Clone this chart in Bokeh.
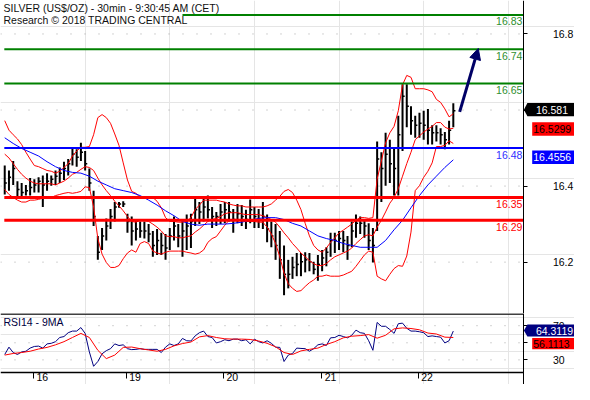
from bokeh.plotting import figure
from bokeh.models import (Range1d, LinearAxis, FixedTicker, Label,
                          Arrow, NormalHead, PolyAnnotation)
from bokeh.layouts import column
from bokeh.embed import file_html
from bokeh.resources import INLINE
from bokeh.core.properties import value

# ---------------------------------------------------------------- data
title_lines = ["SILVER (US$/OZ) - 30min - 9:30:45 AM (CET)",
               "Research \u00a9 2018 TRADING CENTRAL"]
day_labels = ["16", "19", "20", "21", "22"]
day_start = [7.8, 29.7, 52.7, 75.9, 98.7]      # bar position where each session opens

bar_high = [16.434, 16.421, 16.446, 16.393, 16.388, 16.383, 16.401, 16.398, 16.403, 16.408,
            16.414, 16.408, 16.421, 16.429, 16.444, 16.451, 16.482, 16.477, 16.494, 16.472,
            16.426, 16.368, 16.249, 16.270, 16.295, 16.320, 16.338, 16.338, 16.340, 16.307,
            16.300, 16.292, 16.287, 16.287, 16.280, 16.262, 16.267, 16.257, 16.254, 16.270,
            16.300, 16.280, 16.292, 16.305, 16.307, 16.350, 16.338, 16.350, 16.355, 16.325,
            16.312, 16.333, 16.338, 16.338, 16.320, 16.333, 16.330, 16.318, 16.345, 16.325,
            16.320, 16.338, 16.305, 16.287, 16.280, 16.262, 16.224, 16.186, 16.194, 16.204,
            16.204, 16.206, 16.204, 16.181, 16.199, 16.212, 16.219, 16.257, 16.257, 16.262,
            16.262, 16.249, 16.287, 16.305, 16.300, 16.292, 16.282, 16.270, 16.497, 16.469,
            16.520, 16.502, 16.482, 16.565, 16.648, 16.648, 16.590, 16.565, 16.573, 16.578,
            16.583, 16.540, 16.540, 16.532, 16.522, 16.552, 16.598]
bar_low = [16.358, 16.368, 16.383, 16.350, 16.350, 16.355, 16.355, 16.363, 16.363, 16.325,
           16.368, 16.381, 16.383, 16.388, 16.396, 16.408, 16.434, 16.431, 16.446, 16.421,
           16.368, 16.275, 16.186, 16.212, 16.237, 16.267, 16.287, 16.323, 16.325, 16.257,
           16.224, 16.237, 16.244, 16.242, 16.232, 16.194, 16.199, 16.199, 16.186, 16.212,
           16.237, 16.219, 16.194, 16.212, 16.217, 16.275, 16.280, 16.287, 16.295, 16.270,
           16.275, 16.280, 16.282, 16.287, 16.257, 16.282, 16.275, 16.267, 16.282, 16.270,
           16.270, 16.267, 16.232, 16.219, 16.186, 16.136, 16.093, 16.111, 16.136, 16.143,
           16.143, 16.153, 16.156, 16.148, 16.131, 16.156, 16.169, 16.194, 16.204, 16.212,
           16.206, 16.186, 16.219, 16.244, 16.254, 16.244, 16.212, 16.179, 16.262, 16.338,
           16.381, 16.388, 16.355, 16.355, 16.472, 16.535, 16.515, 16.507, 16.507, 16.502,
           16.489, 16.489, 16.497, 16.489, 16.477, 16.489, 16.535]
bar_close = [16.388, 16.403, 16.426, 16.371, 16.363, 16.368, 16.376, 16.383, 16.393, 16.383,
             16.393, 16.398, 16.406, 16.414, 16.426, 16.439, 16.464, 16.456, 16.469, 16.439,
             16.388, 16.300, 16.206, 16.249, 16.275, 16.300, 16.325, 16.333, 16.333, 16.287,
             16.262, 16.267, 16.262, 16.262, 16.254, 16.224, 16.237, 16.224, 16.217, 16.249,
             16.275, 16.249, 16.262, 16.275, 16.287, 16.318, 16.312, 16.325, 16.318, 16.300,
             16.300, 16.312, 16.318, 16.312, 16.292, 16.307, 16.300, 16.292, 16.318, 16.300,
             16.292, 16.300, 16.267, 16.249, 16.224, 16.186, 16.148, 16.148, 16.166, 16.174,
             16.181, 16.186, 16.181, 16.161, 16.174, 16.191, 16.206, 16.237, 16.237, 16.242,
             16.237, 16.224, 16.262, 16.282, 16.282, 16.275, 16.237, 16.224, 16.451, 16.426,
             16.464, 16.439, 16.426, 16.515, 16.616, 16.590, 16.552, 16.540, 16.545, 16.540,
             16.527, 16.520, 16.520, 16.515, 16.502, 16.527, 16.578]

bb_upper = [16.552, 16.527, 16.515, 16.504, 16.489, 16.469, 16.451, 16.434, 16.431, 16.426,
            16.421, 16.419, 16.414, 16.419, 16.429, 16.439, 16.459, 16.472, 16.482, 16.482,
            16.484, 16.515, 16.560, 16.568, 16.560, 16.545, 16.517, 16.487, 16.441, 16.396,
            16.366, 16.361, 16.350, 16.348, 16.348, 16.350, 16.340, 16.323, 16.297, 16.287,
            16.287, 16.285, 16.285, 16.287, 16.297, 16.318, 16.330, 16.343, 16.343, 16.343,
            16.343, 16.340, 16.338, 16.333, 16.330, 16.328, 16.328, 16.325, 16.325, 16.325,
            16.325, 16.325, 16.328, 16.333, 16.343, 16.353, 16.366, 16.371, 16.363, 16.343,
            16.318, 16.282, 16.249, 16.224, 16.212, 16.206, 16.217, 16.232, 16.244, 16.257,
            16.264, 16.272, 16.280, 16.290, 16.297, 16.297, 16.295, 16.297, 16.398, 16.446,
            16.494, 16.520, 16.537, 16.578, 16.646, 16.671, 16.666, 16.636, 16.636, 16.636,
            16.633, 16.628, 16.608, 16.600, 16.583, 16.562, 16.570]
bb_middle = [16.464, 16.454, 16.439, 16.424, 16.411, 16.401, 16.393, 16.388, 16.386, 16.386,
             16.386, 16.386, 16.383, 16.388, 16.393, 16.401, 16.411, 16.416, 16.424, 16.431,
             16.429, 16.421, 16.401, 16.383, 16.368, 16.355, 16.340, 16.328, 16.315, 16.300,
             16.287, 16.285, 16.290, 16.290, 16.287, 16.280, 16.272, 16.262, 16.249, 16.247,
             16.247, 16.244, 16.244, 16.247, 16.249, 16.259, 16.267, 16.277, 16.287, 16.292,
             16.295, 16.300, 16.307, 16.310, 16.310, 16.310, 16.307, 16.305, 16.305, 16.305,
             16.305, 16.302, 16.297, 16.292, 16.285, 16.272, 16.257, 16.244, 16.229, 16.217,
             16.204, 16.194, 16.184, 16.176, 16.171, 16.171, 16.176, 16.186, 16.194, 16.199,
             16.204, 16.209, 16.217, 16.229, 16.239, 16.249, 16.252, 16.249, 16.272, 16.290,
             16.312, 16.335, 16.350, 16.373, 16.406, 16.439, 16.469, 16.502, 16.512, 16.522,
             16.530, 16.537, 16.547, 16.547, 16.535, 16.530, 16.532]
bb_lower = [16.371, 16.358, 16.350, 16.343, 16.338, 16.338, 16.343, 16.343, 16.345, 16.348,
            16.350, 16.350, 16.355, 16.358, 16.361, 16.363, 16.361, 16.363, 16.366, 16.378,
            16.376, 16.325, 16.242, 16.201, 16.179, 16.166, 16.166, 16.171, 16.189, 16.204,
            16.212, 16.206, 16.229, 16.234, 16.229, 16.209, 16.204, 16.201, 16.206, 16.209,
            16.209, 16.209, 16.209, 16.206, 16.204, 16.201, 16.204, 16.212, 16.232, 16.242,
            16.247, 16.262, 16.277, 16.290, 16.292, 16.290, 16.290, 16.287, 16.287, 16.287,
            16.285, 16.285, 16.272, 16.254, 16.229, 16.194, 16.151, 16.123, 16.111, 16.103,
            16.105, 16.116, 16.126, 16.133, 16.143, 16.143, 16.146, 16.143, 16.143, 16.143,
            16.146, 16.151, 16.156, 16.169, 16.184, 16.199, 16.209, 16.206, 16.143, 16.136,
            16.131, 16.148, 16.163, 16.171, 16.169, 16.196, 16.259, 16.368, 16.381, 16.403,
            16.419, 16.441, 16.484, 16.484, 16.487, 16.499, 16.492]
# slow moving average, sampled every second bar
ma_slow = [16.507, 16.492, 16.479, 16.469, 16.459, 16.444, 16.431, 16.421, 16.416, 16.414,
           16.406, 16.393, 16.383, 16.373, 16.368, 16.363, 16.355, 16.343, 16.330, 16.315,
           16.302, 16.287, 16.280, 16.277, 16.280, 16.280, 16.280, 16.282, 16.285, 16.290,
           16.295, 16.297, 16.297, 16.292, 16.282, 16.275, 16.262, 16.249, 16.242, 16.237,
           16.229, 16.224, 16.219, 16.219, 16.219, 16.237, 16.265, 16.290, 16.323, 16.355,
           16.383, 16.406, 16.429, 16.449]

rsi14 = [36.3, 44.9, 38.6, 36.3, 39.3, 40.1, 43.8, 45.7, 46.1, 43.8,
         48.7, 49.4, 51.3, 56.2, 57.3, 61.8, 63.7, 63.7, 67.8, 61.0,
         39.3, 22.5, 28.1, 37.1, 40.8, 43.1, 48.7, 46.8, 47.6, 43.1,
         42.0, 42.3, 43.1, 42.3, 42.3, 42.3, 42.3, 38.6, 44.9, 48.7,
         46.8, 48.7, 55.1, 52.4, 52.1, 58.1, 61.8, 63.7, 57.3, 56.2,
         49.8, 51.3, 53.6, 52.4, 54.3, 54.3, 52.4, 53.6, 48.7, 54.3,
         51.3, 49.8, 52.4, 49.4, 44.9, 44.6, 28.1, 35.6, 37.5, 43.8,
         43.4, 43.1, 40.1, 43.1, 47.6, 48.7, 46.8, 55.8, 56.2, 58.8,
         57.3, 55.8, 58.8, 64.8, 61.8, 61.0, 52.4, 41.2, 73.8, 69.3,
         69.3, 65.5, 61.0, 72.3, 73.0, 67.0, 63.7, 63.7, 62.9, 61.8,
         57.3, 58.1, 57.3, 56.6, 49.8, 52.4, 63.7]
# 9-period average of the RSI, sampled every second bar
rsi_ma9 = [35.6, 37.5, 38.6, 40.1, 42.7, 44.6, 47.6, 51.3, 56.2, 61.0,
           56.2, 41.2, 31.5, 35.6, 44.6, 45.0, 43.1, 41.6, 40.1, 42.3,
           46.4, 49.1, 50.9, 56.9, 58.4, 56.2, 54.7, 54.3, 54.3, 53.9,
           52.1, 49.4, 45.3, 38.6, 36.3, 40.5, 42.3, 43.8, 48.0, 51.3,
           55.8, 57.7, 58.4, 59.6, 55.4, 58.8, 66.3, 67.4, 66.7, 65.2,
           61.4, 60.3, 56.6, 56.2]

resistances = [16.83, 16.74, 16.65]
pivot = [16.48]
supports = [16.35, 16.29]
last_price = 16.581
last_bb_mid = 16.5299
last_ma_slow = 16.4556
last_rsi = 64.3119
last_rsi_ma = 56.1113
forecast_x = [108.5, 112.9]
forecast_y = [16.575, 16.742]
price_ticks = [16.2, 16.4, 16.6, 16.8]
price_tick_shift = 0.02          # the chart prints its price scale 0.02 below the values
rsi_ticks = [30, 50, 70]

# ---------------------------------------------------------------- layout
W, H_MAIN, H_RSI = 574, 313, 71
FW = 523.4                     # width of the plotting area left of the price scale
HR = 58.6                      # height of the RSI plotting area
X0, X1 = 0.0, 123.68
XF = X0 + (X1 - X0) * W / FW
P0, P1 = 16.0449, 16.868
R0, R1 = 15.7, 84.27
RB = R0 - (H_RSI - HR) * (R1 - R0) / HR
FONT = "Liberation Sans"
FS = "10.5px"
NAVY = "#000080"
GREEN = "#008000"
BLUE = "#0000ff"
RED = "#ff0000"
GRID = "#a8a8a8"


def dx(px):
    return px * (X1 - X0) / FW


def dp(px):
    return px * (P1 - P0) / H_MAIN


def dr(px):
    return px * (R1 - R0) / HR


idx = list(range(1, len(bar_high) + 1))
idx2 = idx[::2]
x_range = Range1d(X0, XF)

common = dict(output_backend="svg", toolbar_location=None, x_axis_location=None,
              y_axis_location=None, min_border=0, outline_line_color=None,
              background_fill_color="white", border_fill_color="white")


def value_axis(ticker, overrides=None):
    ax = LinearAxis(ticker=ticker, fixed_location=X1,
                    major_tick_out=4, major_tick_in=0, major_label_standoff=25,
                    axis_line_color="black", major_tick_line_color="black",
                    major_label_text_font=FONT, major_label_text_font_size=FS,
                    major_label_text_color="black")
    if overrides:
        ax.major_label_overrides = overrides
    return ax


def add_tag(fig, y, half, text, bg, fg, pointer):
    x_box = X1 + dx(3.5 if pointer else 8.3)
    if pointer:
        xs = [X1, x_box, XF, XF, x_box]
        ys = [y, y + half, y + half, y - half, y - half]
    else:
        xs = [x_box, XF, XF, x_box]
        ys = [y + half, y + half, y - half, y - half]
    fig.add_layout(PolyAnnotation(xs=xs, ys=ys, fill_color=bg, fill_alpha=1,
                                  line_color=None))
    fig.add_layout(Label(x=x_box + dx(8.5 if pointer else 1), y=y, text=text,
                         text_baseline="middle", text_align="left", text_color=fg,
                         text_font=FONT, text_font_size=FS))


# ---------------------------------------------------------------- price panel
p = figure(width=W, height=H_MAIN, x_range=x_range, y_range=Range1d(P0, P1), **common)

shown_ticks = [t - price_tick_shift for t in price_ticks]
p.add_layout(value_axis(FixedTicker(ticks=shown_ticks),
                        {s: f"{t:.1f}" for s, t in zip(shown_ticks, price_ticks)}), "right")
p.segment(x0=[X0] * len(shown_ticks), x1=[X1] * len(shown_ticks), y0=shown_ticks,
          y1=shown_ticks, line_color=GRID, line_width=1, line_dash="1 13")

# bars
p.segment(x0=idx, y0=bar_low, x1=idx, y1=bar_high, line_color="black", line_width=2)
p.segment(x0=idx, y0=bar_close, x1=[i + 0.5 for i in idx], y1=bar_close,
          line_color="black", line_width=1.5)
# bands and slow average
p.line(idx, bb_upper, line_color=RED, line_width=1)
p.line(idx, bb_middle, line_color=RED, line_width=1)
p.line(idx, bb_lower, line_color=RED, line_width=1)
p.line(idx2, ma_slow, line_color=BLUE, line_width=1)

# horizontal levels
levels = resistances + pivot + supports
lvl_colors = [GREEN] * len(resistances) + [BLUE] * len(pivot) + [RED] * len(supports)
lvl_text_colors = ["#2f8f2f"] * len(resistances) + ["#3030ff"] * len(pivot) + [RED] * len(supports)
lvl_widths = [2] * len(resistances) + [2] * len(pivot) + [3] * len(supports)
lvl_start = [43.0] + [0.9] * (len(levels) - 1)
p.segment(x0=lvl_start, x1=[X1] * len(levels), y0=levels, y1=levels,
          line_color=lvl_colors, line_width=lvl_widths)
p.text(x=[X1 - dx(1.5)] * len(levels), y=[v - dp(2.5) for v in levels],
       text=[f"{v:.2f}" for v in levels], text_align="right", text_baseline="top",
       text_color=lvl_text_colors, text_font=value(FONT), text_font_size=FS)

# forecast arrow
p.add_layout(Arrow(end=NormalHead(size=11, fill_color="#000066", line_color="#000066"),
                   x_start=forecast_x[0], y_start=forecast_y[0],
                   x_end=forecast_x[1], y_end=forecast_y[1],
                   line_color="#000066", line_width=3))

# title
for k, t in enumerate(title_lines):
    p.add_layout(Label(x=dx(3), y=P1 - dp(1 + 12 * k), text=t, text_baseline="top",
                       text_font=FONT, text_font_size=FS, text_color="#101010"))

add_tag(p, last_price, dp(6.7), f"{last_price:.3f}", "black", "white", True)
add_tag(p, last_bb_mid, dp(6.7), f"{last_bb_mid:.4f}", RED, "black", False)
add_tag(p, last_ma_slow, dp(6.7), f"{last_ma_slow:.4f}", BLUE, "white", False)

# ---------------------------------------------------------------- RSI panel
r = figure(width=W, height=H_RSI, x_range=x_range, y_range=Range1d(RB, R1), **common)
r.add_layout(value_axis(FixedTicker(ticks=rsi_ticks)), "right")
r.segment(x0=[X0] * len(rsi_ticks), x1=[X1] * len(rsi_ticks), y0=rsi_ticks, y1=rsi_ticks,
          line_color=GRID, line_width=1, line_dash="1 13")

xax = LinearAxis(ticker=FixedTicker(ticks=day_start), fixed_location=R0, bounds=(X0, X1),
                 major_label_overrides={d: "" for d in day_start},
                 major_tick_out=6, major_tick_in=0, axis_line_color="black",
                 axis_line_width=1.5, major_tick_line_color="black",
                 major_label_standoff=0)
r.add_layout(xax, "below")
# separator between the two panels
r.segment(x0=[X0], x1=[X1], y0=[R1 - dr(0.6)], y1=[R1 - dr(0.6)],
          line_color="black", line_width=1.5)

r.line(idx, rsi14, line_color=NAVY, line_width=1)
r.line(idx2, rsi_ma9, line_color=RED, line_width=1)

r.add_layout(Label(x=dx(3), y=R1 - dr(2), text="RSI14 - 9MA", text_baseline="top",
                   text_font=FONT, text_font_size=FS, text_color="#000040"))

for d, lab in zip(day_start, day_labels):
    r.add_layout(Label(x=d + dx(3), y=R0 - dr(0.8), text=lab, text_baseline="top",
                       text_font=FONT, text_font_size=FS, text_color="black"))

h_navy, h_red, gap = dr(6), dr(5.6), dr(1.5)
rsi_tag_y = last_rsi
rsi_ma_tag_y = min(last_rsi_ma, rsi_tag_y - (h_navy + gap + h_red))
add_tag(r, rsi_tag_y, h_navy, f"{last_rsi:.4f}", NAVY, "white", True)
add_tag(r, rsi_ma_tag_y, h_red, f"{last_rsi_ma:.4f}", RED, "black", False)

layout = column(p, r, spacing=0)
open("out.html", "w").write(file_html(layout, INLINE))
